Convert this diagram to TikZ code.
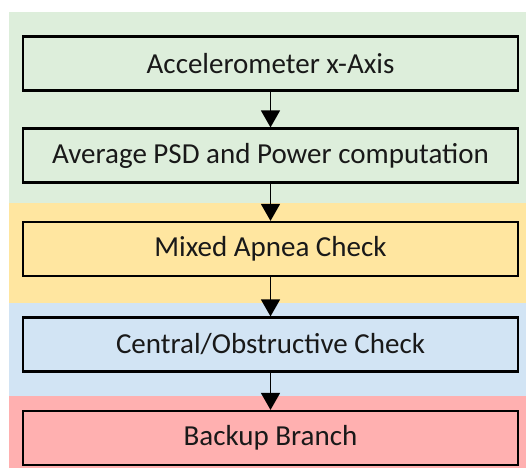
\documentclass[tikz,border=0pt]{standalone}
\usepackage{fontspec}
\setmainfont{Carlito}
\usetikzlibrary{arrows.meta}
\definecolor{bggreen}{RGB}{221,238,219}
\definecolor{bgyellow}{RGB}{255,230,160}
\definecolor{bgblue}{RGB}{210,228,244}
\definecolor{bgred}{RGB}{255,176,176}
\begin{document}
\begin{tikzpicture}[x=1pt,y=-1pt]
\tikzstyle{stage}=[draw=black, line width=2.2pt, minimum width=495pt, minimum height=54pt, inner sep=0pt, text=black!90, font=\fontsize{29}{34}\selectfont]
\tikzstyle{flow}=[line width=1.5pt, -{Triangle[width=19pt,length=17pt]}]
\useasboundingbox (0,0) rectangle (526,468);
% colour bands
\fill [bggreen] (9,12) rectangle (526,203);
\fill [bgyellow] (9,203) rectangle (526,303);
\fill [bgblue] (9,303) rectangle (526,396);
\fill [bgred] (9,396) rectangle (526,468);
% stages
\node [stage, fill=bggreen] (accel) at (270.5,63.5) {Accelerometer x-Axis};
\node [stage, fill=bggreen] (psd) at (270.5,155.5) {Average PSD and Power computation};
\node [stage, fill=bgyellow] (mixed) at (270.5,249) {Mixed Apnea Check};
\node [stage, fill=bgblue] (central) at (270.5,344.5) {Central/Obstructive Check};
\node [stage, fill=bgred] (backup) at (270.5,438) {Backup Branch};
% arrows
\draw [flow] (accel) -- (psd);
\draw [flow] (psd) -- (mixed);
\draw [flow] (mixed) -- (central);
\draw [flow] (central) -- (backup);
\end{tikzpicture}
\end{document}
